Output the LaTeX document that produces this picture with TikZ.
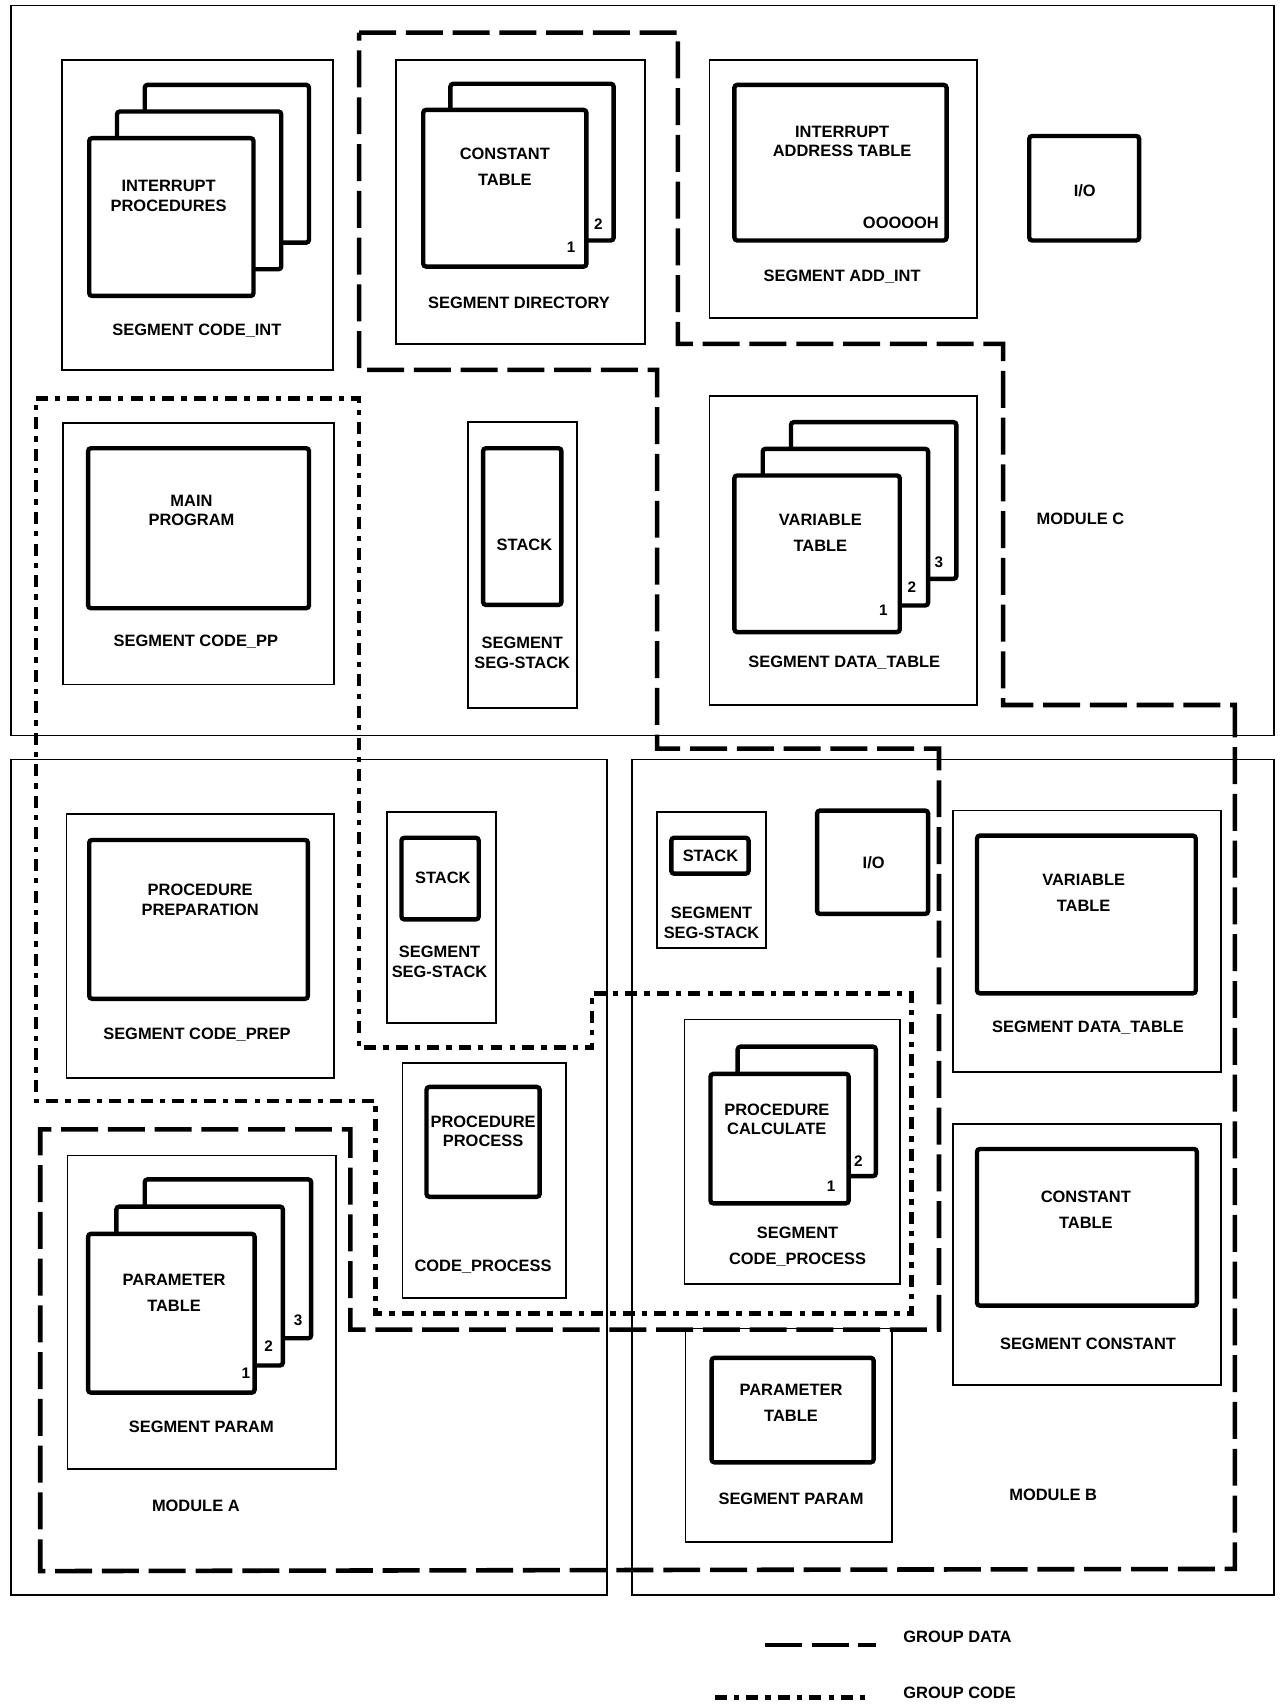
\documentclass[tikz,border=0pt]{standalone}
\usepackage{fontspec}
\setmainfont{Liberation Sans}
\usetikzlibrary{positioning}
\tikzset{
  modbox/.style={draw, line width=0.9pt},
  segbox/.style={draw, line width=0.9pt, fill=white},
  tblbox/.style={draw, line width=2.3pt, fill=white, rounded corners=1.5pt},
  lbl/.style={font=\bfseries\fontsize{8.6}{10.2}\selectfont, align=center, inner sep=0pt},
  lblwide/.style={lbl, font=\bfseries\fontsize{8.6}{13.6}\selectfont},
  pgno/.style={font=\bfseries\fontsize{8}{9}\selectfont, inner sep=0pt},
  grpdata/.style={line width=2.4pt, dash pattern=on 0.68cm off 0.18cm},
  grpcode/.style={line width=2.4pt, dash pattern=on 0.22cm off 0.13cm on 0.1cm off 0.13cm},
}

\begin{document}
\begin{tikzpicture}[x=0.02cm, y=-0.02cm]
  \useasboundingbox (0,0) rectangle (1178,1568);

  % modules
  \draw[modbox] (10,5) rectangle (1171,676);
  \draw[modbox] (10,698) rectangle (558,1466);
  \draw[modbox] (581,698) rectangle (1171,1466);

  % module C
  \draw[segbox] (57,55) rectangle (306,340);
  \foreach \d in {2,1,0}
    \draw[tblbox] ({82+25.5*\d},{127-24.5*\d}) rectangle ++(151,145);
  \node[lbl] (intproc) at (155,180) {INTERRUPT\\PROCEDURES};
  \node[lbl] (codeint) at (181,304) {SEGMENT CODE\_INT};

  \draw[segbox] (364,55) rectangle (593,316);
  \foreach \d in {1,0}
    \draw[tblbox] ({389+25*\d},{101-24*\d}) rectangle ++(150,144);
  \node[lblwide] (consttab) at (464,153) {CONSTANT\\TABLE};
  \node[pgno] (dirone) at (525,227) {1};
  \node[pgno] (dirtwo) at (550,206) {2};
  \node[lbl] (directory) at (477,278) {SEGMENT DIRECTORY};

  \draw[segbox] (652,55) rectangle (898,292);
  \draw[tblbox] (675,78) rectangle (870,221);
  \node[lbl] (intaddr) at (774,130) {INTERRUPT\\ADDRESS TABLE};
  \node[lbl] (addr) at (828,205) {OOOOOH};
  \node[lbl] (addint) at (774,254) {SEGMENT ADD\_INT};

  \draw[tblbox] (946,125) rectangle (1047,221);
  \node[lbl] (ioc) at (997,175) {I/O};

  \draw[segbox] (58,389) rectangle (307,629);
  \draw[tblbox] (81,412) rectangle (284,559);
  \node[lbl] (mainprog) at (176,469) {MAIN\\PROGRAM};
  \node[lbl] (codepp) at (180,590) {SEGMENT CODE\_PP};

  \draw[segbox] (430,388) rectangle (530,651);
  \draw[tblbox] (444,412) rectangle (516,556);
  \node[lbl] (stackc) at (482,501) {STACK};
  \node[lbl] (segstackc) at (480,600) {SEGMENT\\SEG-STACK};

  \draw[segbox] (652,364) rectangle (898,648);
  \foreach \d in {2,1,0}
    \draw[tblbox] ({675+26*\d},{437-24.5*\d}) rectangle ++(152,144);
  \node[lblwide] (vartabc) at (754,490) {VARIABLE\\TABLE};
  \node[pgno] (datone) at (812,561) {1};
  \node[pgno] (dattwo) at (838,540) {2};
  \node[pgno] (datthree) at (863,517) {3};
  \node[lbl] (datatabc) at (776,609) {SEGMENT DATA\_TABLE};

  \node[lbl] (modc) at (993,477) {MODULE C};

  % module A
  \draw[segbox] (61,748) rectangle (307,991);
  \draw[tblbox] (82,772) rectangle (283,918);
  \node[lbl] (procprep) at (184,827) {PROCEDURE\\PREPARATION};
  \node[lbl] (codeprep) at (181,951) {SEGMENT CODE\_PREP};

  \draw[segbox] (356,746) rectangle (456,940);
  \draw[tblbox] (369,770) rectangle (440,845);
  \node[lbl] (stacka) at (407,807) {STACK};
  \node[lbl] (segstacka) at (404,884) {SEGMENT\\SEG-STACK};

  \draw[segbox] (370,977) rectangle (520,1193);
  \draw[tblbox] (392,999) rectangle (496,1100);
  \node[lbl] (procproc) at (444,1040) {PROCEDURE\\PROCESS};
  \node[lbl] (codeproc) at (444,1164) {CODE\_PROCESS};

  \draw[segbox] (62,1062) rectangle (309,1350);
  \foreach \d in {2,1,0}
    \draw[tblbox] ({81+26*\d},{1134-25*\d}) rectangle ++(153,146);
  \node[lblwide] (paramtaba) at (160,1188) {PARAMETER\\TABLE};
  \node[pgno] (parone) at (226,1262) {1};
  \node[pgno] (partwo) at (247,1237) {2};
  \node[pgno] (parthree) at (274,1213) {3};
  \node[lbl] (parama) at (185,1311) {SEGMENT PARAM};

  \node[lbl] (moda) at (180,1384) {MODULE A};

  % module B
  \draw[segbox] (604,746) rectangle (704,871);
  \draw[tblbox] (617,770) rectangle (688,803);
  \node[lbl] (stackb) at (653,787) {STACK};
  \node[lbl] (segstackb) at (654,848) {SEGMENT\\SEG-STACK};

  \draw[tblbox] (751,745) rectangle (853,840);
  \node[lbl] (iob) at (803,793) {I/O};

  \draw[segbox] (876,745) rectangle (1122,985);
  \draw[tblbox] (898,768) rectangle (1099,913);
  \node[lblwide] (vartabb) at (996,821) {VARIABLE\\TABLE};
  \node[lbl] (datatabb) at (1000,945) {SEGMENT DATA\_TABLE};

  \draw[segbox] (629,937) rectangle (827,1180);
  \foreach \d in {1,0}
    \draw[tblbox] ({653+25*\d},{987-25*\d}) rectangle ++(127,119);
  \node[lbl] (proccalc) at (714,1029) {PROCEDURE\\CALCULATE};
  \node[pgno] (calcone) at (764,1090) {1};
  \node[pgno] (calctwo) at (789,1067) {2};
  \node[lblwide] (codeprocb) at (733,1146) {SEGMENT\\CODE\_PROCESS};

  \draw[segbox] (876,1033) rectangle (1122,1273);
  \draw[tblbox] (898,1056) rectangle (1100,1200);
  \node[lblwide] (consttabb) at (998,1112) {CONSTANT\\TABLE};
  \node[lbl] (constb) at (1000,1235) {SEGMENT CONSTANT};

  \draw[segbox] (630,1221) rectangle (820,1417);
  \draw[tblbox] (654,1248) rectangle (803,1344);
  \node[lblwide] (paramtabb) at (727,1289) {PARAMETER\\TABLE};
  \node[lbl] (paramb) at (727,1378) {SEGMENT PARAM};

  \node[lbl] (modb) at (968,1374) {MODULE B};

  % groups
  \draw[grpdata] (330,30) -- (623,30) -- (623,316) -- (922,316) -- (922,648)
    -- (1135,648) -- (1135,1442) -- (37,1444) -- (37,1038) -- (322,1038)
    -- (322,1222) -- (863,1222) -- (863,688) -- (604,688) -- (604,340)
    -- (330,340) -- cycle;
  \draw[grpcode] (33,366) -- (330,366) -- (330,963) -- (544,963) -- (544,913)
    -- (838,913) -- (838,1207) -- (345,1207) -- (345,1012) -- (33,1012) -- cycle;

  % legend
  \coordinate (dataA) at (703,1512);
  \coordinate (dataB) at (805,1512);
  \coordinate (codeA) at (657,1560);
  \coordinate (codeB) at (800,1560);
  \draw[grpdata] (dataA) -- (dataB);
  \draw[grpcode] (codeA) -- (codeB);
  \node[lbl, anchor=west] (grpdatalbl) at (830,1504) {GROUP DATA};
  \node[lbl, anchor=west] (grpcodelbl) at (830,1556) {GROUP CODE};
\end{tikzpicture}
\end{document}
